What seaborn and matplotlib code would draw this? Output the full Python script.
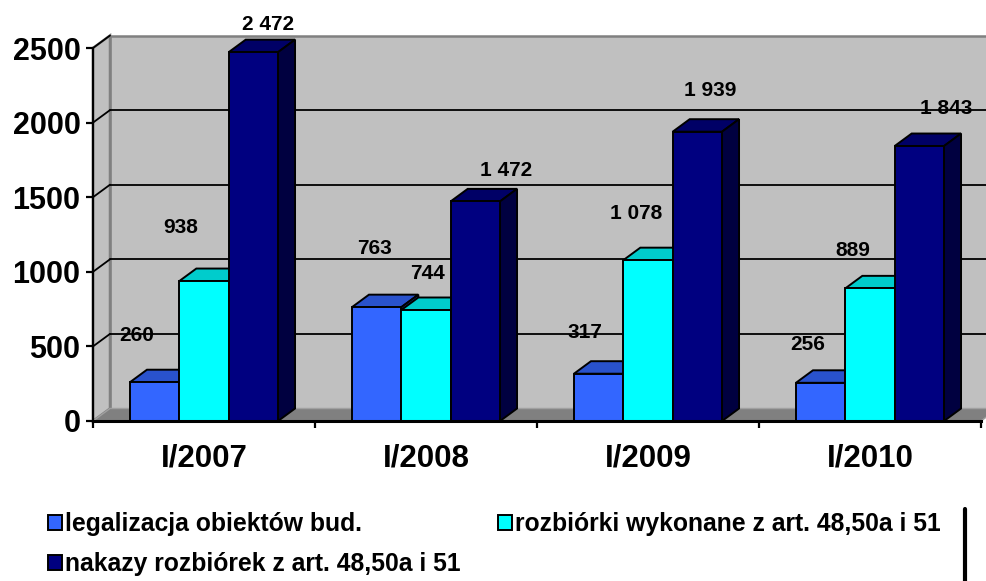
import numpy as np
import pandas as pd
import seaborn as sns
import matplotlib.pyplot as plt
from matplotlib.patches import Polygon, Patch
from matplotlib.lines import Line2D

sns.set_theme(style="white")
plt.rcParams['font.family'] = ['Liberation Sans', 'DejaVu Sans']
plt.rcParams['font.weight'] = 'bold'
plt.rcParams['text.color'] = 'black'

# dane
periods = ["I/2007", "I/2008", "I/2009", "I/2010"]
series = ["legalizacja obiektów bud.",
          "rozbiórki wykonane z art. 48,50a i 51",
          "nakazy rozbiórek z art. 48,50a i 51"]
legalizacja = [260, 763, 317, 256]
rozbiorki = [938, 744, 1078, 889]
nakazy = [2472, 1472, 1939, 1843]
colors = ["#3366FF", "#00FFFF", "#000080"]

# przesuniecia etykiet (piksele) wzgledem szczytu slupka
label_dx = [[-18, -2, -14, -13], [-23, 2, -12, -17], [15, 31, 13, 27]]
label_dy = [[47, 59, 41, 38], [54, 36, 47, 38], [28, 31, 41, 38]]

df = pd.DataFrame({
    "okres": periods * 3,
    "seria": [series[0]] * 4 + [series[1]] * 4 + [series[2]] * 4,
    "wartosc": legalizacja + rozbiorki + nakazy,
})

fig = plt.figure(figsize=(9.87, 5.81), dpi=100)
W, H = 987, 581
ax = fig.add_axes([93 / W, (H - 421) / H, 888 / W, 373 / H])
ax.set_facecolor("none")

sns.barplot(data=df, x="okres", y="wartosc", hue="seria", palette=colors,
            width=0.667, edgecolor="black", linewidth=1.4, saturation=1,
            legend=False, ax=ax)
ax.set_xlim(-0.5, 3.5)
ax.set_ylim(0, 2500)

# glebokosc 3D w jednostkach danych
ddx = 17 * 4.0 / 888
ddy = 12.5 * 2500.0 / 373

# sciany i podloga
back = Polygon([(-0.5 + ddx, ddy), (3.5 + ddx, ddy), (3.5 + ddx, 2500 + ddy),
                (-0.5 + ddx, 2500 + ddy)], closed=True, facecolor="#C0C0C0",
               edgecolor="#808080", lw=1.8, zorder=0, clip_on=False)
side = Polygon([(-0.5, 0), (-0.5, 2500), (-0.5 + ddx, 2500 + ddy), (-0.5 + ddx, ddy)],
               closed=True, facecolor="#C0C0C0", edgecolor="#808080", lw=1.8,
               zorder=0.2, clip_on=False)
floor = Polygon([(-0.5, 0), (3.5, 0), (3.5 + ddx, ddy), (-0.5 + ddx, ddy)],
                closed=True, facecolor="#808080", edgecolor="#A0A0A0", lw=1,
                zorder=0.3, clip_on=False)
for p in (back, side, floor):
    ax.add_patch(p)

for v in range(500, 2500, 500):
    ax.plot([-0.5 + ddx, 3.5 + ddx], [v + ddy, v + ddy], color="black", lw=1.3,
            zorder=0.5, clip_on=False)
for v in range(500, 3000, 500):
    ax.plot([-0.5, -0.5 + ddx], [v, v + ddy], color="black", lw=1.3,
            zorder=0.5, clip_on=False)


def shade(c, f):
    c = np.array(plt.matplotlib.colors.to_rgb(c))
    return tuple(c * f)


# boki i wierzch slupkow
for k, cont in enumerate(ax.containers):
    for j, bar in enumerate(cont.patches):
        x0 = bar.get_x()
        x1 = x0 + bar.get_width()
        h = bar.get_height()
        bar.set_zorder(3 + 2 * k)
        top = Polygon([(x0, h), (x1, h), (x1 + ddx, h + ddy), (x0 + ddx, h + ddy)],
                      closed=True, facecolor=shade(colors[k], 0.8),
                      edgecolor="black", lw=1.4, zorder=2 + 2 * k, clip_on=False)
        sd = Polygon([(x1, 0), (x1, h), (x1 + ddx, h + ddy), (x1 + ddx, ddy)],
                     closed=True, facecolor=shade(colors[k], 0.5),
                     edgecolor="black", lw=1.4, zorder=2 + 2 * k, clip_on=False)
        ax.add_patch(top)
        ax.add_patch(sd)
        txt = f"{int(h):,}".replace(",", " ")
        ax.annotate(txt, xy=(x0 + bar.get_width() / 2, h),
                    xytext=(label_dx[k][j], label_dy[k][j]),
                    textcoords="offset pixels", ha="center", va="center",
                    fontsize=15, fontweight="bold", color="black",
                    annotation_clip=False, zorder=20)

# osie
for s in ("top", "right"):
    ax.spines[s].set_visible(False)
ax.spines["left"].set_linewidth(1.6)
ax.spines["bottom"].set_linewidth(2.2)
for s in ("left", "bottom"):
    ax.spines[s].set_color("black")
    ax.spines[s].set_zorder(30)

ax.set_xlabel("")
ax.set_ylabel("")
ax.set_yticks(range(0, 2501, 500))
ax.tick_params(axis="y", which="major", length=5, width=1.6, pad=4,
               labelsize=22, left=True, color="black")
ax.set_xticks(range(4))
ax.set_xticks(np.arange(-0.5, 4, 1), minor=True)
ax.tick_params(axis="x", which="major", length=0, pad=16, labelsize=22.5)
ax.tick_params(axis="x", which="minor", length=5, width=1.6, bottom=True,
               color="black")
for t in ax.get_xticklabels() + ax.get_yticklabels():
    t.set_fontweight("bold")
    t.set_color("black")
ax.grid(False)

# legenda
h = [Patch(facecolor=c, edgecolor="black", lw=1.4) for c in colors]
kw = dict(frameon=False, fontsize=17.8, handlelength=0.55, handleheight=0.55,
          handletextpad=0.15, borderpad=0, borderaxespad=0, labelspacing=0.66,
          loc="upper left", labelcolor="black")
fig.legend([h[0], h[2]], [series[0], series[2]],
           bbox_to_anchor=(48 / W, (H - 512) / H), **kw)
fig.legend([h[1]], [series[1]], bbox_to_anchor=(498 / W, (H - 512) / H), **kw)
fig.add_artist(Line2D([965 / W, 965 / W], [0, (H - 509) / H], color="black",
                      lw=3, transform=fig.transFigure))

fig.savefig("out.png", dpi=100)
